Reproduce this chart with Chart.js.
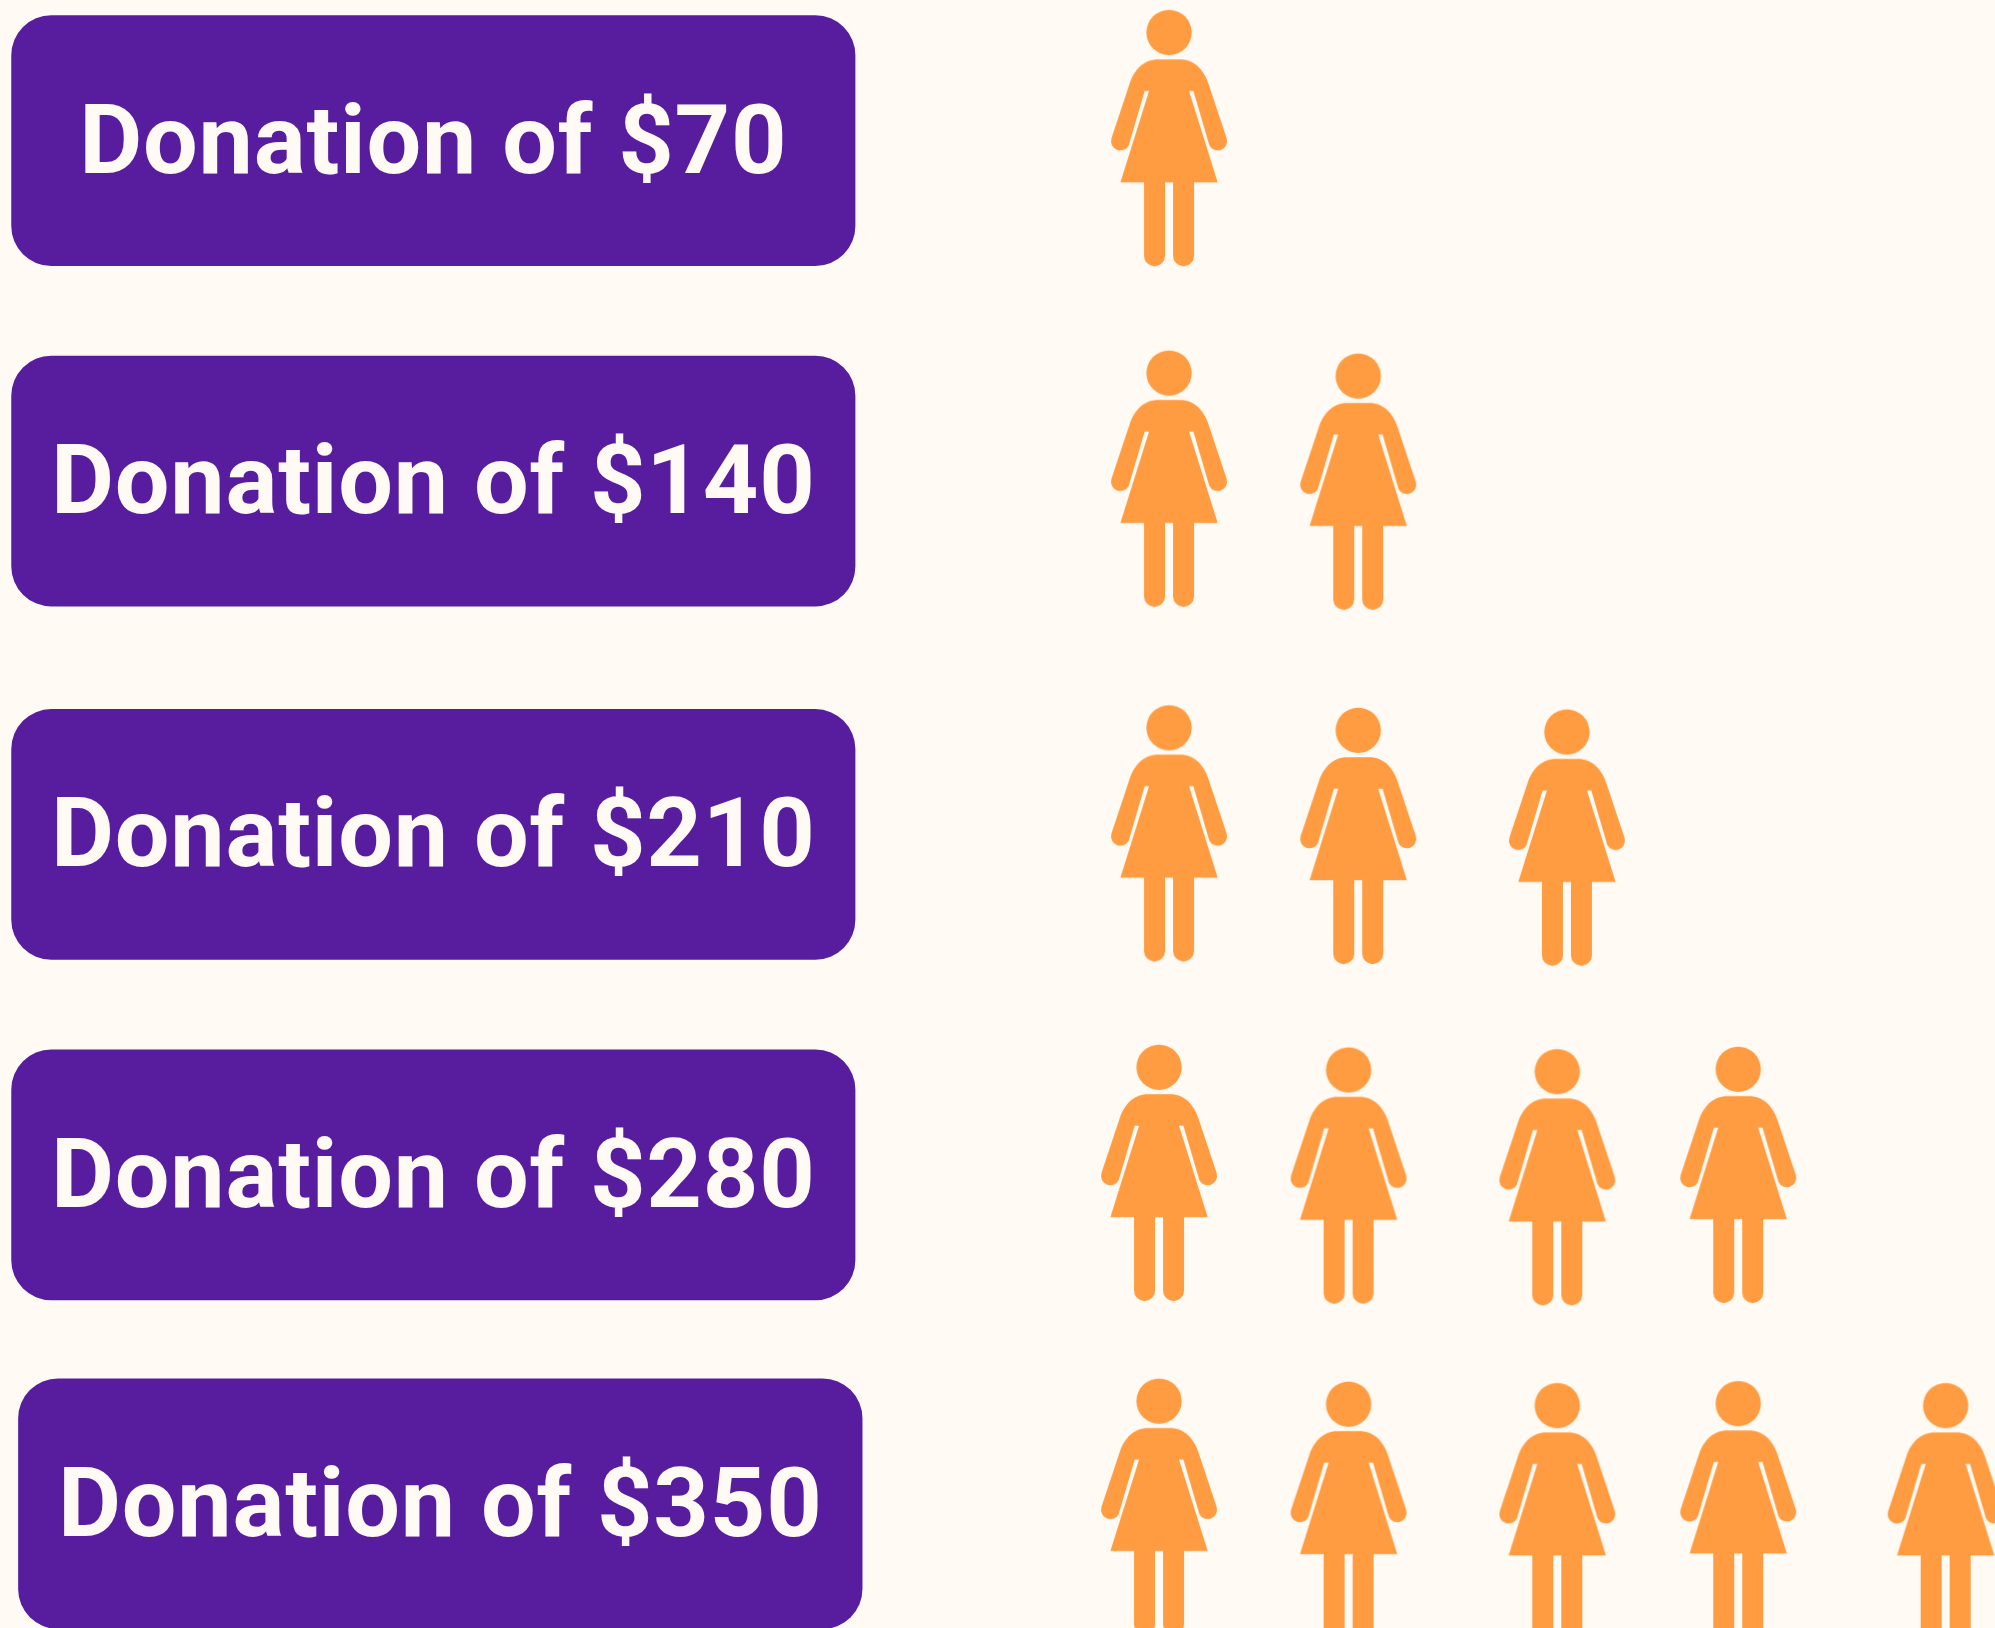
<!DOCTYPE html>
<html>
<head>
<meta charset="utf-8">
<title>Donations</title>
<style>
    html, body { margin: 0; padding: 0; background: #fffaf4; overflow: hidden; }
    canvas { display: block; }
</style>
<script src="https://cdn.jsdelivr.net/npm/chart.js@4/dist/chart.umd.min.js"></script>
</head>
<body>
<canvas id="chart" width="1995" height="1628"></canvas>
<script>
// Chart data
const donationLabels = ['Donation of $70', 'Donation of $140', 'Donation of $210', 'Donation of $280', 'Donation of $350'];
const donationAmounts = [70, 140, 210, 280, 350];
const dollarsPerWoman = 70;

// Where each row sits (row units) and where each woman sits (slot units)
const cardRows = [1, 2.0015, 3.041, 4.0426, 5.01];
const cardStarts = [-4.84, -4.84, -4.84, -4.84, -4.805];
const cardEnds = [-0.547, -0.547, -0.547, -0.547, -0.511];
const womanSlots = [
    [1.051],
    [1.051, 2.014],
    [1.051, 2.014, 3.076],
    [1.0, 1.965, 3.027, 3.948],
    [1.0, 1.965, 3.027, 3.948, 5.004]
];
const womanRows = [
    [0.9926],
    [1.9946, 2.0034],
    [3.0379, 3.0455, 3.0505],
    [4.0367, 4.0446, 4.0496, 4.0426],
    [5.019, 5.0279, 5.032, 5.0261, 5.032]
];

const BACKGROUND = '#fffaf4';
const PURPLE = '#581d9f';
const ORANGE = '#ff9c42';

// Pictogram used as the point style for the scatter dataset
function buildWomanIcon() {
    const icon = document.createElement('canvas');
    icon.width = 124;
    icon.height = 264;
    const g = icon.getContext('2d');
    g.translate(62, 132);
    g.scale(1 / 3, 1 / 3);
    g.fillStyle = ORANGE;

    g.beginPath();
    g.arc(0, -317, 68, 0, Math.PI * 2);
    g.fill();

    // the body is symmetric, so draw the right half twice
    [1, -1].forEach(side => {
        g.save();
        g.scale(side, 1);
        g.beginPath();
        g.moveTo(-1, -236);
        g.lineTo(33, -236);
        g.bezierCurveTo(75, -236, 105, -205, 118, -164);
        g.lineTo(173, 1);
        g.arc(146, 9, 28, -0.29, 2.7);
        g.lineTo(73, -142);
        g.lineTo(60, -142);
        g.lineTo(146, 133);
        g.lineTo(75, 133);
        g.lineTo(75, 353);
        g.arc(43.5, 353, 31.5, 0, Math.PI);
        g.lineTo(12, 133);
        g.lineTo(-1, 133);
        g.closePath();
        g.fill();
        g.restore();
    });
    return icon;
}

// Writes the label in the middle of each purple card
const cardLabels = {
    id: 'cardLabels',
    afterDatasetsDraw(chart) {
        const { ctx } = chart;
        const cards = chart.getDatasetMeta(0).data;
        ctx.save();
        ctx.font = 'bold 97px Roboto';
        ctx.letterSpacing = '0.8px';
        ctx.fillStyle = BACKGROUND;
        ctx.textAlign = 'center';
        ctx.textBaseline = 'alphabetic';
        cards.forEach((card, i) => {
            ctx.fillText(donationLabels[i], (card.x + card.base) / 2, card.y + 32);
        });
        ctx.restore();
    }
};

const womanPoints = [];
donationAmounts.forEach((amount, row) => {
    for (let i = 0; i < amount / dollarsPerWoman; i++) {
        womanPoints.push({ x: womanSlots[row][i], y: womanRows[row][i] });
    }
});

new Chart(document.getElementById('chart'), {
    type: 'scatter',
    data: {
        datasets: [
            {
                type: 'bar',
                indexAxis: 'y',
                data: cardRows.map((row, i) => ({ x: [cardStarts[i], cardEnds[i]], y: row })),
                backgroundColor: PURPLE,
                barThickness: 250,
                borderRadius: 40,
                borderSkipped: false,
                grouped: false,
                clip: false
            },
            {
                type: 'scatter',
                data: womanPoints,
                pointStyle: buildWomanIcon(),
                // radius only has to be non-zero, the icon keeps its own size
                pointRadius: 0.2,
                pointHoverRadius: 0.2,
                pointBorderWidth: 0,
                pointHoverBorderWidth: 0,
                showLine: false,
                clip: false
            }
        ]
    },
    options: {
        responsive: false,
        animation: false,
        events: [],
        layout: { padding: 0 },
        plugins: { legend: { display: false }, tooltip: { enabled: false } },
        scales: {
            x: { type: 'linear', display: false, offset: false, min: -4.898, max: 5.254 },
            y: { type: 'linear', display: false, offset: false, reverse: true, min: 0.5868, max: 5.375 }
        }
    },
    plugins: [
        {
            id: 'pageBackground',
            beforeDraw(chart) {
                chart.ctx.save();
                chart.ctx.fillStyle = BACKGROUND;
                chart.ctx.fillRect(0, 0, chart.width, chart.height);
                chart.ctx.restore();
            }
        },
        cardLabels
    ]
});
</script>
</body>
</html>
